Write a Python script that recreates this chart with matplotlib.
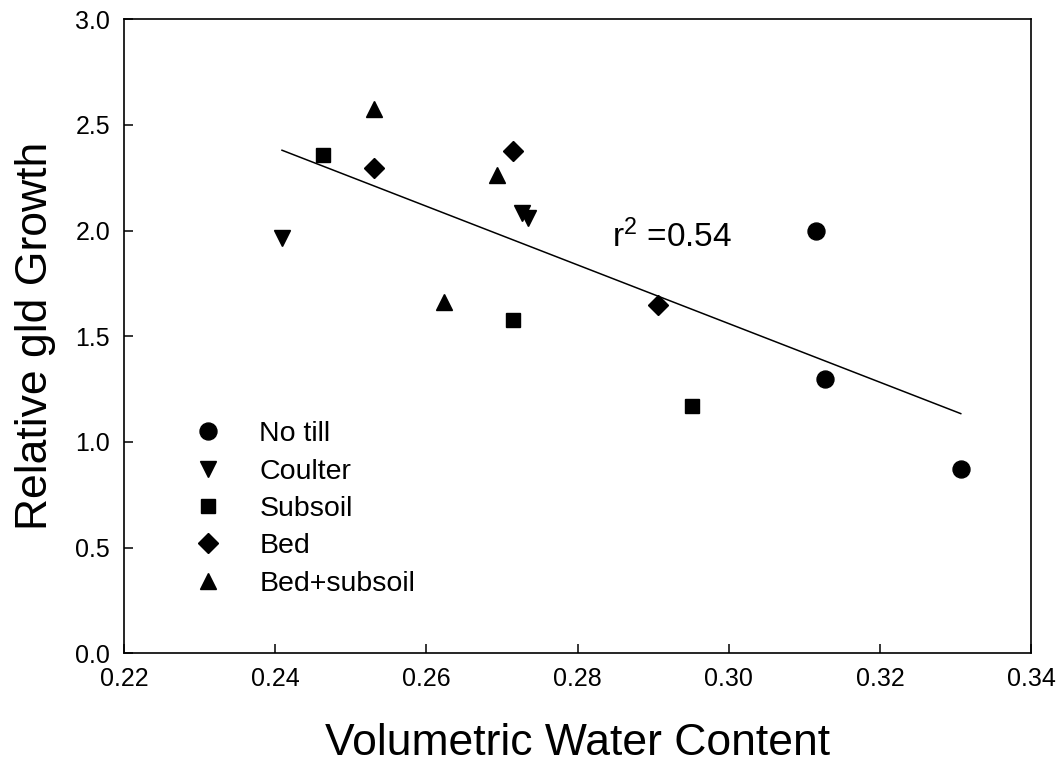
import numpy as np
import matplotlib.pyplot as plt

plt.rcParams['font.family'] = ['Liberation Sans', 'DejaVu Sans']
plt.rcParams['mathtext.fontset'] = 'custom'
plt.rcParams['mathtext.rm'] = 'Liberation Sans'
plt.rcParams['mathtext.default'] = 'regular'

# volumetric water content / relative growth per tillage treatment
no_till_x = [0.3115, 0.3128, 0.3307]
no_till_y = [1.997, 1.297, 0.871]
coulter_x = [0.2409, 0.2726, 0.2735]
coulter_y = [1.964, 2.082, 2.059]
subsoil_x = [0.2463, 0.2715, 0.2952]
subsoil_y = [2.357, 1.576, 1.170]
bed_x = [0.2531, 0.2715, 0.2906]
bed_y = [2.295, 2.376, 1.647]
bed_subsoil_x = [0.2531, 0.2694, 0.2623]
bed_subsoil_y = [2.575, 2.262, 1.663]

series = [
    ('No till', no_till_x, no_till_y, 'o', 12.2),
    ('Coulter', coulter_x, coulter_y, 'v', 11.5),
    ('Subsoil', subsoil_x, subsoil_y, 's', 10.4),
    ('Bed', bed_x, bed_y, 'D', 9.7),
    ('Bed+subsoil', bed_subsoil_x, bed_subsoil_y, '^', 11.5),
]

fig = plt.figure(figsize=(10.6, 7.63), dpi=100)
ax = fig.add_axes([0.117, 0.1438, 0.8557, 0.8309])

for label, xs, ys, marker, size in series:
    ax.plot(xs, ys, linestyle='none', marker=marker, markersize=size,
            color='black', label=label)

# linear regression over all points
all_x = np.concatenate([s[1] for s in series])
all_y = np.concatenate([s[2] for s in series])
slope, intercept = np.polyfit(all_x, all_y, 1)
fit_x = np.array([all_x.min(), all_x.max()])
ax.plot(fit_x, slope * fit_x + intercept, color='black', linewidth=1.1)

ax.text(0.2846, 1.923, 'r$^2$ =0.54', fontsize=24, va='baseline', ha='left')

ax.set_xlim(0.22, 0.34)
ax.set_ylim(0, 3.0)
ax.set_xticks(np.arange(0.22, 0.3401, 0.02))
ax.set_yticks(np.arange(0, 3.01, 0.5))
ax.xaxis.set_major_formatter(plt.FuncFormatter(lambda v, _: f'{v:.2f}'))
ax.yaxis.set_major_formatter(plt.FuncFormatter(lambda v, _: f'{v:.1f}'))
ax.tick_params(direction='in', length=6.5, width=1.1, labelsize=18)
ax.tick_params(axis='y', pad=10)
ax.tick_params(axis='x', pad=10)
for sp in ax.spines.values():
    sp.set_linewidth(1.2)

ax.set_xlabel('Volumetric Water Content', fontsize=32, labelpad=23)
ax.set_ylabel('Relative gld Growth', fontsize=32, labelpad=14)

ax.legend(loc='upper left', bbox_to_anchor=(0.077, 0.366), frameon=False,
          fontsize=20.5, numpoints=1, handlelength=1.0, handletextpad=1.3,
          labelspacing=0.4, borderpad=0, borderaxespad=0)

plt.savefig('out.png', dpi=100)
